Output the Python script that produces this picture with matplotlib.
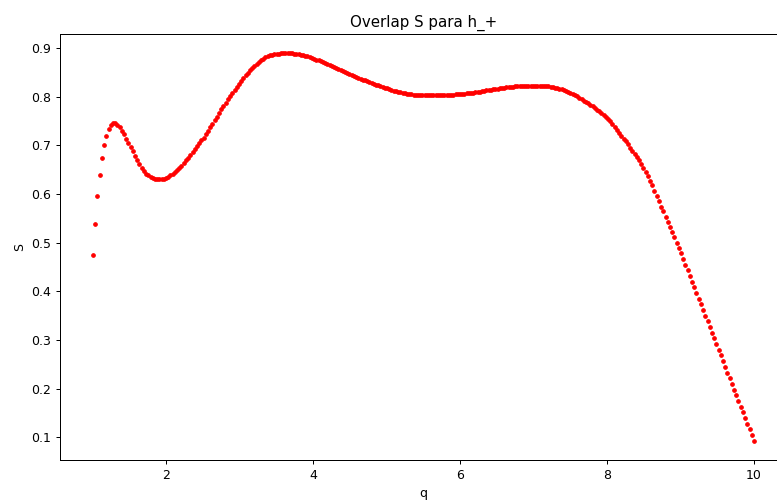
import numpy as np
import matplotlib
matplotlib.use("Agg")
import matplotlib.pyplot as plt

# q grid: 300 evenly spaced samples between 1 and 10 (as seen in the dotted curve)
q_start, q_stop, n_points = 1.0, 10.0, 300

# Overlap values S (one per sample)
S_part1 = [
    0.474, 0.538, 0.595, 0.638, 0.673, 0.701, 0.720, 0.734, 0.742, 0.746,
    0.746, 0.742, 0.737, 0.730, 0.723, 0.714, 0.705, 0.697, 0.688, 0.679,
    0.670, 0.662, 0.654, 0.647, 0.642, 0.638, 0.635, 0.633, 0.631, 0.630,
    0.630, 0.630, 0.631, 0.632, 0.635, 0.638, 0.641, 0.645, 0.649, 0.653,
    0.658, 0.663, 0.669, 0.674, 0.680, 0.686, 0.692, 0.698, 0.704, 0.710,
]
S_part2 = [
    0.716, 0.723, 0.730, 0.737, 0.744, 0.752, 0.759, 0.767, 0.774, 0.781,
    0.788, 0.795, 0.802, 0.808, 0.814, 0.820, 0.826, 0.832, 0.838, 0.844,
    0.849, 0.854, 0.859, 0.863, 0.867, 0.871, 0.875, 0.878, 0.881, 0.883,
    0.885, 0.886, 0.887, 0.888, 0.888, 0.889, 0.889, 0.889, 0.889, 0.889,
    0.889, 0.888, 0.888, 0.887, 0.886, 0.885, 0.884, 0.883, 0.881, 0.880,
]
S_part3 = [
    0.878, 0.876, 0.875, 0.873, 0.871, 0.869, 0.867, 0.865, 0.863, 0.861,
    0.859, 0.857, 0.855, 0.853, 0.851, 0.849, 0.847, 0.845, 0.843, 0.841,
    0.839, 0.837, 0.835, 0.834, 0.832, 0.830, 0.828, 0.826, 0.825, 0.823,
    0.821, 0.820, 0.818, 0.817, 0.815, 0.814, 0.812, 0.811, 0.810, 0.809,
    0.808, 0.807, 0.806, 0.805, 0.805, 0.804, 0.804, 0.804, 0.803, 0.803,
]
S_part4 = [
    0.803, 0.803, 0.803, 0.803, 0.803, 0.803, 0.803, 0.803, 0.803, 0.803,
    0.803, 0.804, 0.804, 0.804, 0.805, 0.805, 0.805, 0.806, 0.806, 0.807,
    0.807, 0.808, 0.808, 0.809, 0.810, 0.810, 0.811, 0.812, 0.813, 0.813,
    0.814, 0.815, 0.816, 0.816, 0.817, 0.818, 0.818, 0.819, 0.819, 0.820,
    0.820, 0.821, 0.821, 0.821, 0.822, 0.822, 0.822, 0.822, 0.822, 0.822,
]
S_part5 = [
    0.822, 0.822, 0.822, 0.822, 0.822, 0.821, 0.821, 0.820, 0.819, 0.818,
    0.817, 0.816, 0.815, 0.813, 0.812, 0.810, 0.808, 0.806, 0.803, 0.801,
    0.798, 0.795, 0.792, 0.789, 0.786, 0.783, 0.780, 0.777, 0.773, 0.770,
    0.766, 0.762, 0.758, 0.754, 0.749, 0.743, 0.738, 0.732, 0.726, 0.720,
    0.714, 0.708, 0.702, 0.695, 0.689, 0.682, 0.676, 0.669, 0.661, 0.653,
]
S_part6 = [
    0.645, 0.636, 0.627, 0.618, 0.607, 0.596, 0.585, 0.574, 0.564, 0.553,
    0.543, 0.533, 0.522, 0.511, 0.500, 0.489, 0.478, 0.466, 0.455, 0.443,
    0.431, 0.420, 0.408, 0.396, 0.385, 0.373, 0.361, 0.350, 0.338, 0.326,
    0.315, 0.303, 0.291, 0.280, 0.268, 0.256, 0.245, 0.233, 0.221, 0.210,
    0.198, 0.186, 0.175, 0.163, 0.151, 0.140, 0.128, 0.116, 0.105, 0.093,
]

S = S_part1 + S_part2 + S_part3 + S_part4 + S_part5 + S_part6
q = np.linspace(q_start, q_stop, n_points)

title = "Overlap S para h_+"
xlabel = "q"
ylabel = "S"

DPI = 90
W, H = 777, 503
fig = plt.figure(figsize=(W / DPI, H / DPI), dpi=DPI)
left, right, top, bottom = 60, 787, 34, 460
ax = fig.add_axes([left / W, (H - bottom) / H, (right - left) / W, (bottom - top) / H])

ax.plot(q, S, "r.", markersize=5.5)
ax.set_title(title)
ax.set_xlabel(xlabel)
ax.set_ylabel(ylabel)

fig.savefig("out.png", dpi=DPI)
